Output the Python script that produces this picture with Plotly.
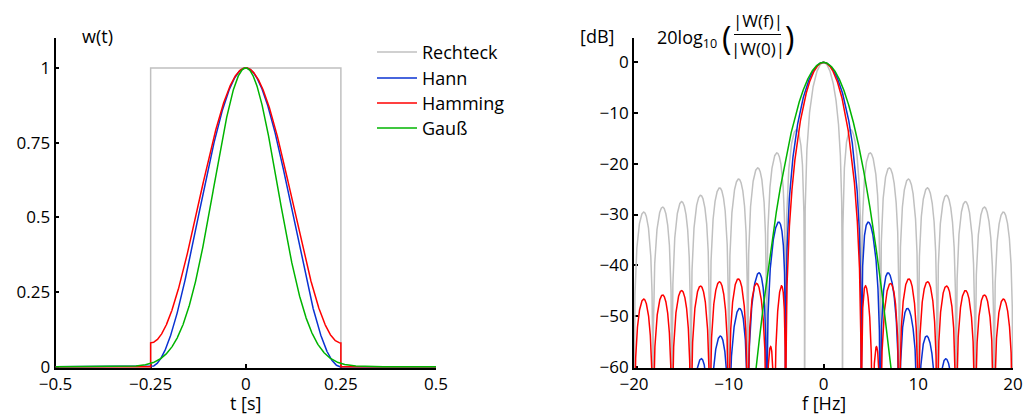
import numpy as np
import plotly.graph_objects as go

# ---- data / parameters -------------------------------------------------
window_names = ["Rechteck", "Hann", "Hamming", "Gauß"]
window_colors = ["#c0c0c0", "#0a32d2", "#ff0000", "#00b400"]
T_window = 0.5            # window length [s], window spans -0.25 .. 0.25
gauss_sigma = 1.0 / 12.0  # std of Gaussian window [s]
hamming_a = [0.54, 0.46]
hann_a = [0.5, 0.5]

t_range = [-0.5, 0.5]
f_range = [-20.0, 20.0]

t_tickvals = [-0.5, -0.25, 0, 0.25, 0.5]
t_ticktext = ["\u22120.5", "\u22120.25", "0", "0.25", "0.5"]
w_tickvals = [0, 0.25, 0.5, 0.75, 1]
w_ticktext = ["0", "0.25", "0.5", "0.75", "1"]
f_tickvals = [-20, -10, 0, 10, 20]
f_ticktext = ["\u221220", "\u221210", "0", "10", "20"]
db_tickvals = [0, -10, -20, -30, -40, -50, -60]
db_ticktext = ["0", "\u221210", "\u221220", "\u221230", "\u221240", "\u221250", "\u221260"]

# ---- time domain --------------------------------------------------------
half = T_window / 2
t_in = np.linspace(-half, half, 1001)
t_all = np.linspace(t_range[0], t_range[1], 2001)


def with_edges(t, w):
    tt = np.concatenate([[t_range[0], -half], t, [half, t_range[1]]])
    ww = np.concatenate([[0.0, 0.0], w, [0.0, 0.0]])
    return tt, ww


rect_t, rect_w = with_edges(np.array([-half, half]), np.array([1.0, 1.0]))
hann_t, hann_w = with_edges(t_in, hann_a[0] + hann_a[1] * np.cos(2 * np.pi * t_in / T_window))
hamm_t, hamm_w = with_edges(t_in, hamming_a[0] + hamming_a[1] * np.cos(2 * np.pi * t_in / T_window))
gauss_t, gauss_w = t_all, np.exp(-t_all ** 2 / (2 * gauss_sigma ** 2))

# ---- frequency domain ---------------------------------------------------
f = np.linspace(f_range[0], f_range[1], 8001)
x = f * T_window
sinc = np.sinc(x)
den = 1 - x ** 2
near1 = np.isclose(np.abs(x), 1.0)
safe_den = np.where(near1, 1.0, den)
ratio = np.where(near1, 0.5, sinc / safe_den)  # sinc/(1-x^2), limit 0.5 at |x|=1
a0, a1 = hamming_a
H_rect = np.abs(sinc)
H_hann = np.abs(ratio)
H_hamm = np.abs(np.where(near1, 0.5 * a1 / a0,
                         sinc * (a0 - (a0 - a1) * x ** 2) / safe_den / a0))
H_gauss = np.exp(-2 * np.pi ** 2 * gauss_sigma ** 2 * f ** 2)


def db(h):
    return np.maximum(20 * np.log10(np.maximum(h, 1e-12)), -80)


fig = go.Figure()
lw = 1.5
time_series = [(rect_t, rect_w), (hann_t, hann_w), (hamm_t, hamm_w), (gauss_t, gauss_w)]
freq_series = [H_rect, H_hann, H_hamm, H_gauss]
for name, col, (tt, ww) in zip(window_names, window_colors, time_series):
    fig.add_trace(go.Scatter(x=tt, y=ww, mode="lines", name=name,
                             line=dict(color=col, width=lw), showlegend=False,
                             xaxis="x", yaxis="y"))
for name, col, hh in zip(window_names, window_colors, freq_series):
    fig.add_trace(go.Scatter(x=f, y=db(hh), mode="lines", name=name,
                             line=dict(color=col, width=lw), showlegend=False,
                             xaxis="x2", yaxis="y2"))

W, H = 1025, 416
font = "Open Sans, Noto Sans, DejaVu Sans, sans-serif"
fs = 17


def px(xp):
    return xp / W


def py(yp):
    return 1 - yp / H


axis_common = dict(showline=True, linecolor="black", linewidth=1.8, ticks="inside",
                   ticklen=4, tickwidth=1.5, tickcolor="black", showgrid=False,
                   zeroline=False, mirror=False, layer="below traces", automargin=False,
                   tickfont=dict(family=font, size=fs, color="black"), fixedrange=True)

ydom = [py(368), py(38)]
fig.update_layout(
    width=W, height=H, margin=dict(l=0, r=0, t=0, b=0),
    paper_bgcolor="white", plot_bgcolor="white",
    font=dict(family=font, size=fs, color="black"),
    xaxis=dict(domain=[px(55.5), px(436)], range=t_range, anchor="y", ticklabelstandoff=0,
               tickmode="array", tickvals=t_tickvals, ticktext=t_ticktext, **axis_common),
    yaxis=dict(domain=ydom, range=[-0.004, 1.1], anchor="x",
               tickmode="array", tickvals=w_tickvals, ticktext=w_ticktext, **axis_common),
    xaxis2=dict(domain=[px(634), px(1013)], range=f_range, anchor="y2", ticklabelstandoff=0,
                tickmode="array", tickvals=f_tickvals, ticktext=f_ticktext, **axis_common),
    yaxis2=dict(domain=ydom, range=[-60.25, 4.8], anchor="x2",
                tickmode="array", tickvals=db_tickvals, ticktext=db_ticktext, **axis_common),
)

ann = []


def add_text(text, xp, yp, size=fs, xanchor="center", yanchor="middle"):
    ann.append(dict(text=text, x=px(xp), y=py(yp), xref="paper", yref="paper",
                    xanchor=xanchor, yanchor=yanchor, showarrow=False, borderpad=0,
                    font=dict(family=font, size=size, color="black")))


add_text("w(t)", 97, 36, size=18)
add_text("t [s]", 245.5, 416, size=18, yanchor="bottom")
add_text("f [Hz]", 823.5, 416, size=18, yanchor="bottom")
add_text("[dB]", 597, 36, size=18)
add_text("20log<sub>10</sub>", 656, 38, size=18, xanchor="left")
add_text("(", 726, 37, size=32)
add_text(")", 789, 37, size=32)
add_text("|W(f)|", 757.5, 20)
add_text("|W(0)|", 757.5, 48)

shapes = [dict(type="line", xref="paper", yref="paper", x0=px(734), x1=px(781),
               y0=py(34.5), y1=py(34.5), line=dict(color="black", width=1.2))]

# manual legend
leg_y = [52, 78, 103, 128]
for name, col, yy in zip(window_names, window_colors, leg_y):
    shapes.append(dict(type="line", xref="paper", yref="paper", x0=px(377), x1=px(417),
                       y0=py(yy), y1=py(yy), line=dict(color=col, width=1.5)))
    add_text(name, 421, yy, size=18, xanchor="left")

fig.update_layout(annotations=ann, shapes=shapes)
fig.write_html("out.html", config={"displayModeBar": False},
               post_script="document.body.style.margin='0';document.body.style.overflow='hidden';")
